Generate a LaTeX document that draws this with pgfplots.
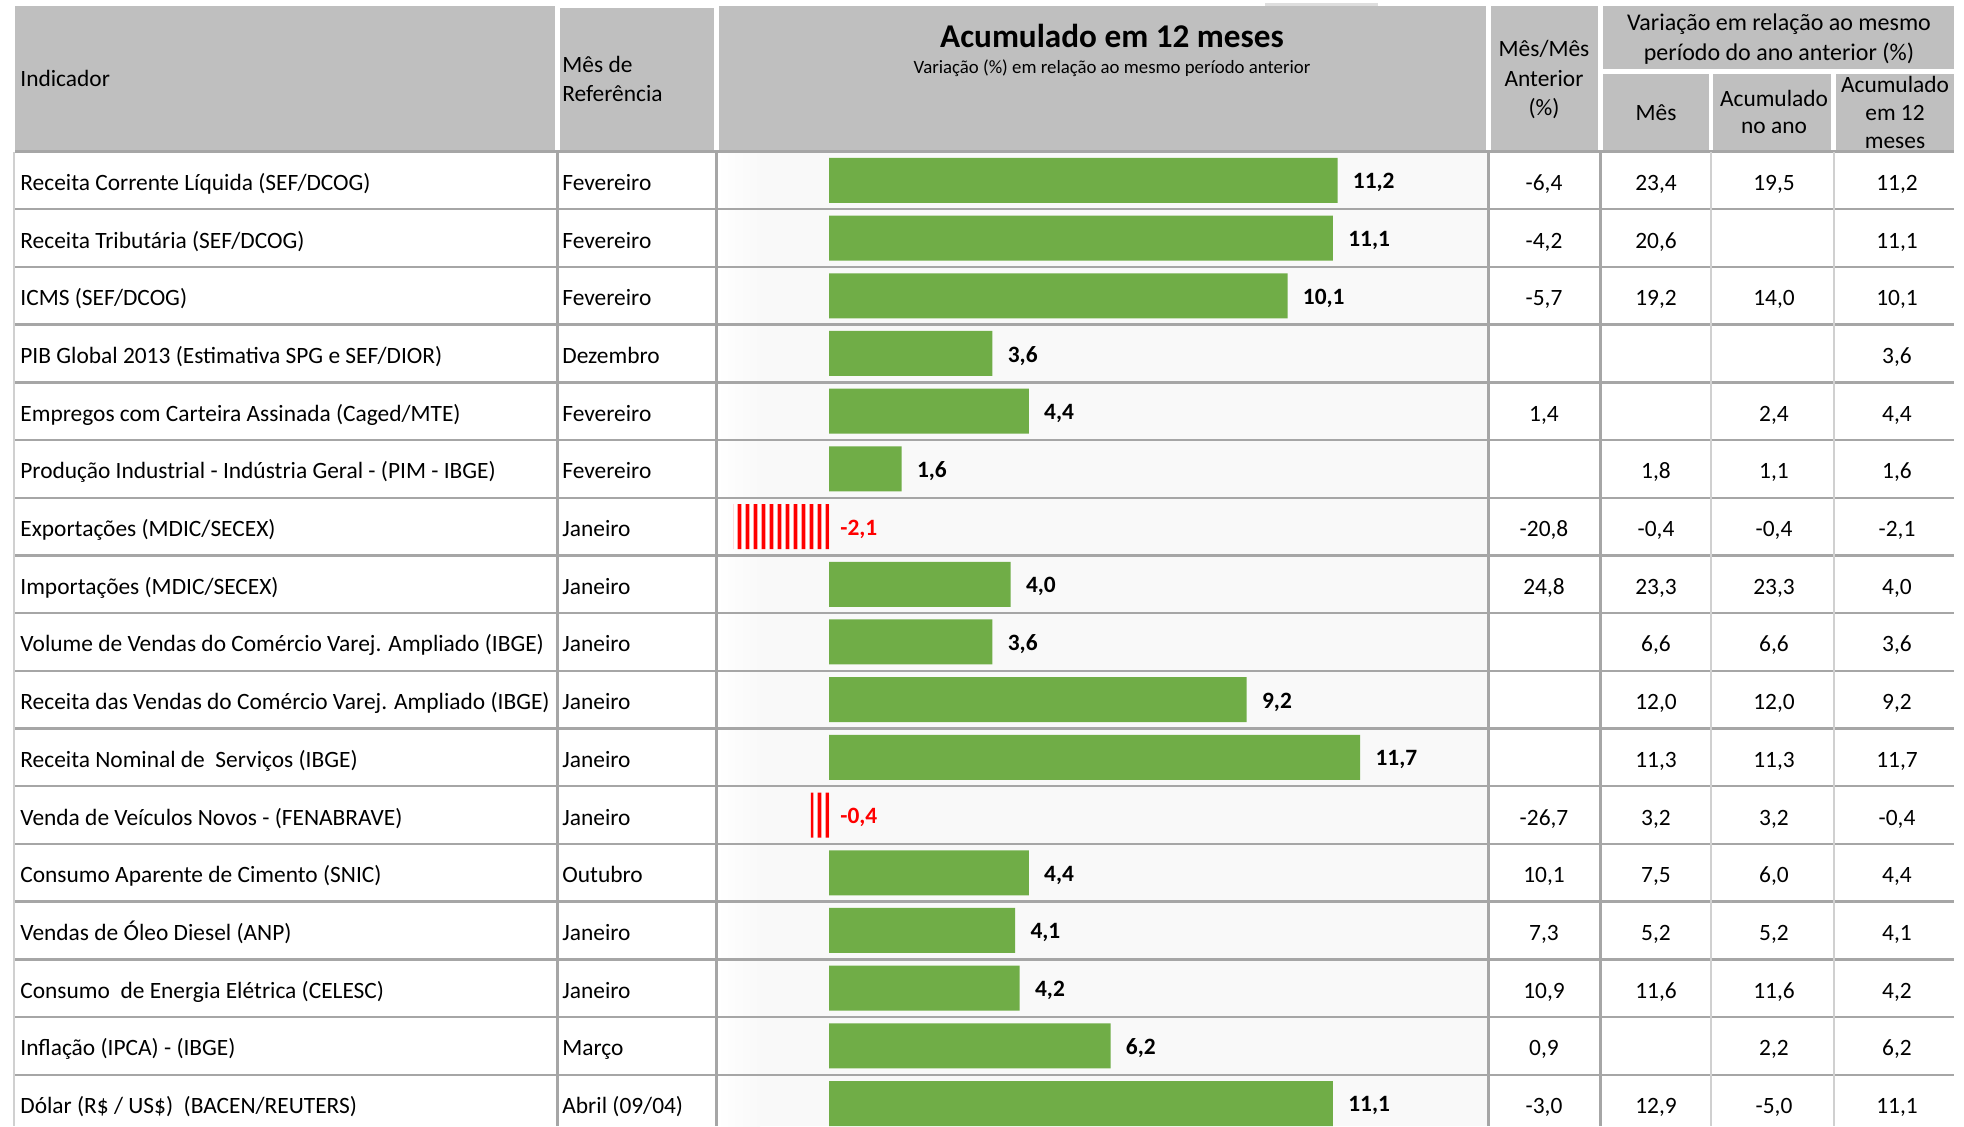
\documentclass[border=0pt]{standalone}
\usepackage{pgfplots}
\pgfplotsset{compat=1.18}
\usepackage{pgfplotstable}
\usepackage{fontspec}
\setmainfont{Carlito}
\usetikzlibrary{patterns}

\definecolor{hdr}{HTML}{BFBFBF}
\definecolor{gridc}{HTML}{A6A6A6}
\definecolor{gridl}{HTML}{D0D0D0}
\definecolor{barg}{HTML}{70AD47}
\definecolor{chartbg}{HTML}{F9F9F9}
\definecolor{negred}{HTML}{FF0000}

% tall tile so the stripes have no seams inside a bar
\pgfdeclarepatternformonly{vstripes}{\pgfqpoint{0pt}{0pt}}{\pgfqpoint{4pt}{600pt}}{\pgfqpoint{4pt}{600pt}}{%
  \pgfpathrectangle{\pgfqpoint{0.9pt}{-2pt}}{\pgfqpoint{2.1pt}{604pt}}\pgfusepath{fill}}

\newcommand\tsz{\fontsize{11.7}{14}\selectfont}

% acumulado em 12 meses, positive bars
\pgfplotstableread{
row val lbl
1  11.2 11,2
2  11.1 11,1
3  10.1 10,1
4  3.6  3,6
5  4.4  4,4
6  1.6  1,6
8  4.0  4,0
9  3.6  3,6
10 9.2  9,2
11 11.7 11,7
13 4.4  4,4
14 4.1  4,1
15 4.2  4,2
16 6.2  6,2
17 11.1 11,1
}\pos

% negative bars (label sits right of zero)
\pgfplotstableread{
row val base lbl
7  -2.1 0 -2,1
12 -0.4 0 -0,4
}\neg

% one table row: index, indicador, mes, mes/mes, mes, acum. ano, acum. 12m
\newcommand\trow[7]{%
  \pgfmathsetmacro\yb{151.5+57.7*(#1-0.5)+10}%
  \node[cell,anchor=base west] at (20,\yb) {#2};
  \node[cell,anchor=base west] at (562,\yb) {#3};
  \node[cell,anchor=base] at (1544,\yb) {#4};
  \node[cell,anchor=base] at (1656,\yb) {#5};
  \node[cell,anchor=base] at (1774,\yb) {#6};
  \node[cell,anchor=base] at (1897,\yb) {#7};
}

\begin{document}
\tsz
\begin{tikzpicture}[x=0.5pt,y=-0.5pt,cell/.style={inner sep=0pt,font=\tsz}]
\useasboundingbox (0,0) rectangle (1964,1126);
\clip (0,0) rectangle (1964,1126);

% header cells
\fill[gridl!70] (1265,3) rectangle (1378,8);
\fill[hdr] (15,6) rectangle (555,152);
\fill[hdr] (560,8) rectangle (714,152);
\fill[hdr] (719,6) rectangle (1486,150);
\fill[hdr] (1491,6) rectangle (1598,152);
\fill[hdr] (1603,6) rectangle (1954,69);
\fill[hdr] (1603,74) rectangle (1709,152);
\fill[hdr] (1713,74) rectangle (1831,152);
\fill[hdr] (1836,74) rectangle (1954,152);

% header text
\node[cell,anchor=west] at (20,78) {Indicador};
\node[cell,anchor=west] at (562,64) {Mês de};
\node[cell,anchor=west] at (562,94) {Referência};
\node[cell,font=\fontsize{16.6}{20}\selectfont\bfseries] at (1112,36) {Acumulado em 12 meses};
\node[cell,font=\fontsize{9.4}{11}\selectfont] at (1112,68) {Variação (\%) em relação ao mesmo período anterior};
\node[cell] at (1544,49) {Mês/Mês};
\node[cell] at (1544,79) {Anterior};
\node[cell] at (1544,109) {(\%)};
\node[cell,font=\fontsize{12}{14}\selectfont] at (1779,24) {Variação em relação ao mesmo};
\node[cell,font=\fontsize{12}{14}\selectfont] at (1779,54) {período do ano anterior (\%)};
\node[cell] at (1656,113) {Mês};
\node[cell] at (1774,98) {Acumulado};
\node[cell] at (1774,128) {no ano};
\node[cell] at (1895,84) {Acumulado};
\node[cell] at (1895,113) {em 12};
\node[cell] at (1895,143) {meses};

% body
\fill[white] (12,152) rectangle (1960,1126);
\fill[chartbg] (717,152) rectangle (1488,1126);
\shade[left color=white,right color=chartbg] (717,152) rectangle (760,1126);

\foreach \k in {0,...,16}
  \draw[gridc,line width=1.2pt] (15,151.5+57.7*\k) -- (1954,151.5+57.7*\k);
\foreach \xv in {557.5,716.5,1488.5,1600.5}
  \draw[gridc,line width=1.2pt] (\xv,150) -- (\xv,1126);
\foreach \xv in {14,1711,1833.5}
  \draw[gridl,line width=1pt] (\xv,152) -- (\xv,1126);

\coordinate (cnw) at (719,151.5);
\begin{axis}[
  at={(cnw)}, anchor=north west,
  scale only axis, width=383.5pt, height=490.45pt,
  xmin=-2.423, xmax=14.471, ymin=0.5, ymax=17.5,
  y dir=reverse, hide axis, clip=false,
]
\addplot[xbar, bar shift=0pt, bar width=22.5pt, fill=barg, draw=none,
  point meta=explicit symbolic, nodes near coords,
  every node near coord/.append style={anchor=west, inner sep=0pt,
    xshift=7.5pt, yshift=-1.2pt, font=\tsz\bfseries, text=black}]
  table[x=val, y=row, meta=lbl] {\pos};
\addplot[xbar, bar shift=0pt, bar width=22.5pt, draw=none,
  preaction={fill=white},
  pattern=vstripes, pattern color=negred]
  table[x=val, y=row] {\neg};
\addplot[draw=none, mark=none, point meta=explicit symbolic, nodes near coords,
  every node near coord/.append style={anchor=west, inner sep=0pt,
    xshift=5.5pt, yshift=-1.2pt, font=\tsz\bfseries, text=negred}]
  table[x=base, y=row, meta=lbl] {\neg};
\end{axis}

\trow{1}{Receita Corrente Líquida (SEF/DCOG)}{Fevereiro}{-6,4}{23,4}{19,5}{11,2}
\trow{2}{Receita Tributária (SEF/DCOG)}{Fevereiro}{-4,2}{20,6}{}{11,1}
\trow{3}{ICMS (SEF/DCOG)}{Fevereiro}{-5,7}{19,2}{14,0}{10,1}
\trow{4}{PIB Global 2013 (Estimativa SPG e SEF/DIOR)}{Dezembro}{}{}{}{3,6}
\trow{5}{Empregos com Carteira Assinada (Caged/MTE)}{Fevereiro}{1,4}{}{2,4}{4,4}
\trow{6}{Produção Industrial - Indústria Geral - (PIM - IBGE)}{Fevereiro}{}{1,8}{1,1}{1,6}
\trow{7}{Exportações (MDIC/SECEX)}{Janeiro}{-20,8}{-0,4}{-0,4}{-2,1}
\trow{8}{Importações (MDIC/SECEX)}{Janeiro}{24,8}{23,3}{23,3}{4,0}
\trow{9}{Volume de Vendas do Comércio Varej. Ampliado (IBGE)}{Janeiro}{}{6,6}{6,6}{3,6}
\trow{10}{Receita das Vendas do Comércio Varej. Ampliado (IBGE)}{Janeiro}{}{12,0}{12,0}{9,2}
\trow{11}{Receita Nominal de\ \ Serviços (IBGE)}{Janeiro}{}{11,3}{11,3}{11,7}
\trow{12}{Venda de Veículos Novos - (FENABRAVE)}{Janeiro}{-26,7}{3,2}{3,2}{-0,4}
\trow{13}{Consumo Aparente de Cimento (SNIC)}{Outubro}{10,1}{7,5}{6,0}{4,4}
\trow{14}{Vendas de Óleo Diesel (ANP)}{Janeiro}{7,3}{5,2}{5,2}{4,1}
\trow{15}{Consumo\ \ de Energia Elétrica (CELESC)}{Janeiro}{10,9}{11,6}{11,6}{4,2}
\trow{16}{Inflação (IPCA) - (IBGE)}{Março}{0,9}{}{2,2}{6,2}
\trow{17}{Dólar (R\$ / US\$)\ \ (BACEN/REUTERS)}{Abril (09/04)}{-3,0}{12,9}{-5,0}{11,1}
\end{tikzpicture}
\end{document}
